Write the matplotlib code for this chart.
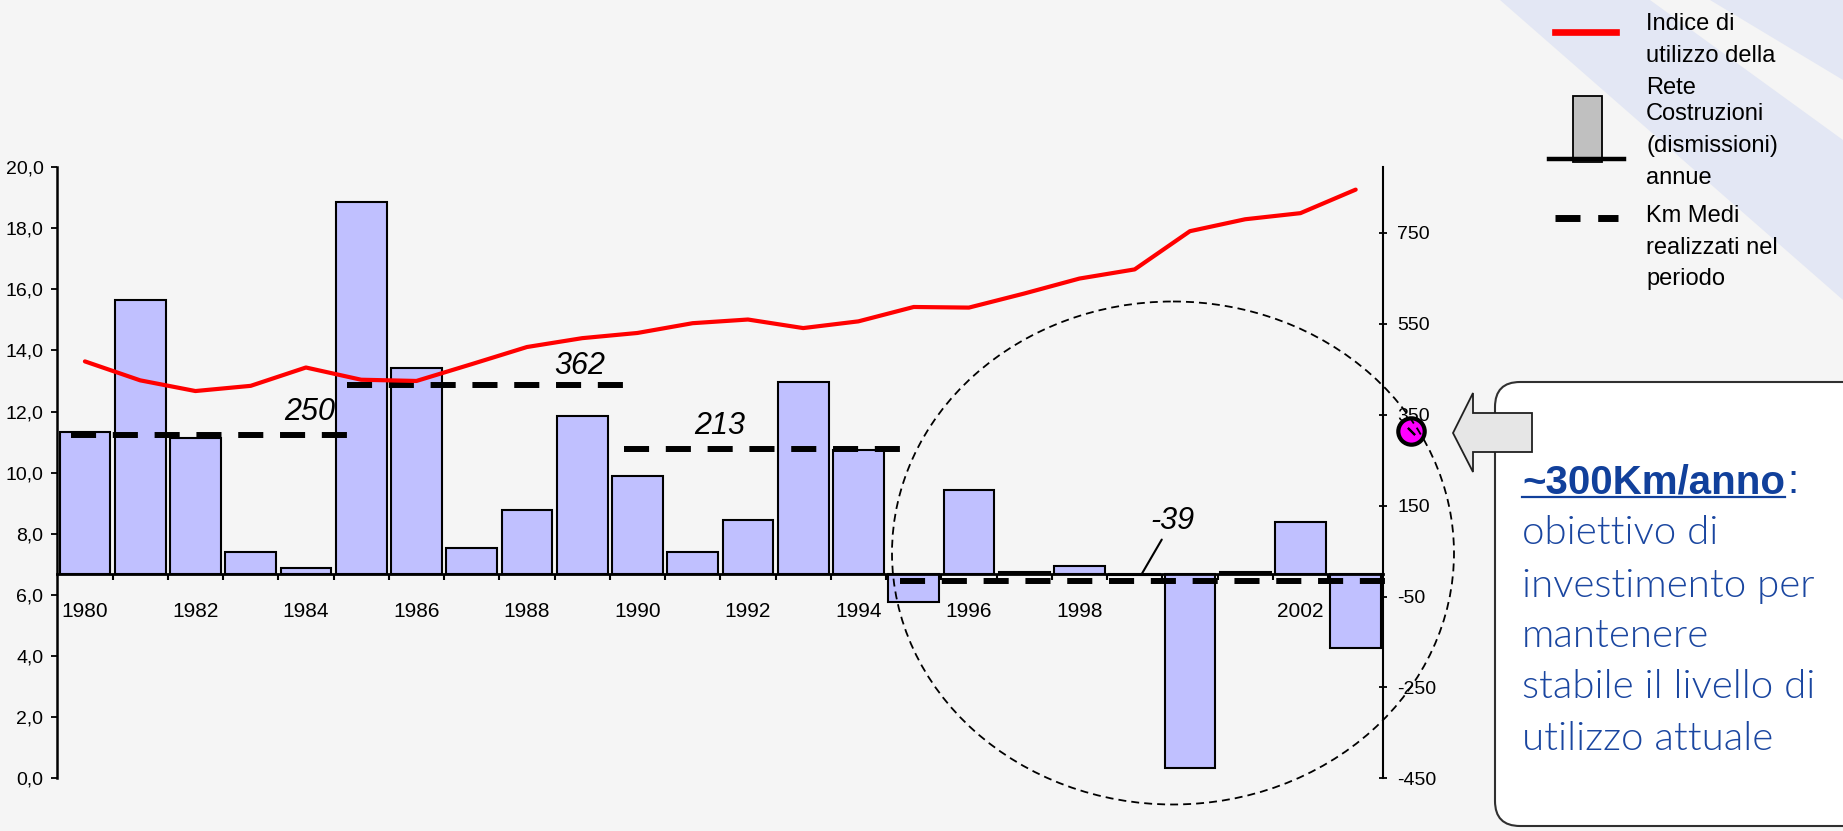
import numpy as np
import matplotlib
matplotlib.use("Agg")
import matplotlib.pyplot as plt
from matplotlib import font_manager
from matplotlib.patches import Ellipse, FancyBboxPatch, Polygon, Rectangle
from matplotlib.lines import Line2D
from matplotlib.ticker import FuncFormatter

# dati
anni = list(range(1980, 2004))
km_annui = [312, 602, 299, 47, 13, 818, 453, 57, 140, 347, 215, 47, 119, 422,
            272, -62, 184, 4, 18, -3, -427, 4, 113, -163]
indice_rete = [13.64, 13.02, 12.67, 12.84, 13.44, 13.04, 13.00, 13.55, 14.11,
               14.40, 14.57, 14.89, 15.01, 14.73, 14.95, 15.42, 15.40, 15.86,
               16.35, 16.65, 17.90, 18.29, 18.49, 19.26]
periodi = [(1980, 1984), (1985, 1989), (1990, 1994), (1995, 2003)]
medie_testo = ["250", "362", "213", "-39"]
medie_livello = [306, 416, 275, -15]
obiettivo_anno = 2004
obiettivo_km = 315

legenda_testi = [["Indice di", "utilizzo della", "Rete"],
                 ["Costruzioni", "(dismissioni)", "annue"],
                 ["Km Medi", "realizzati nel", "periodo"]]
box_titolo = "~300Km/anno"
box_righe = ["obiettivo di", "investimento per", "mantenere",
             "stabile il livello di", "utilizzo attuale"]

nomi = {f.name for f in font_manager.fontManager.ttflist}
stretto = "Liberation Sans Narrow" if "Liberation Sans Narrow" in nomi else "Liberation Sans"
sottile = "Lato" if "Lato" in nomi else "DejaVu Sans"
# peso piu' leggero "normale" disponibile (light se c'e')
pesi = sorted({f.weight for f in font_manager.fontManager.ttflist
               if f.name == sottile and f.style == "normal"
               and isinstance(f.weight, int) and f.weight >= 300})
peso_sottile = pesi[0] if pesi else "normal"
plt.rcParams["font.family"] = [stretto, "DejaVu Sans"]
plt.rcParams["axes.unicode_minus"] = False

W, H = 1843, 831
fig = plt.figure(figsize=(W / 100, H / 100), dpi=100)
fig.patch.set_facecolor("#F5F5F5")

# sfondo (strisce azzurre in alto a destra)
bg = fig.add_axes([0, 0, 1, 1])
bg.set_xlim(0, W)
bg.set_ylim(H, 0)
bg.axis("off")
bg.add_patch(Polygon([(1500, 0), (1650, 0), (1843, 140), (1843, 300)],
                     closed=True, fc="#E3E7F4", ec="none"))
bg.add_patch(Polygon([(1710, 0), (1843, 0), (1843, 80)],
                     closed=True, fc="#E3E7F4", ec="none"))

x = np.arange(len(anni))
rect = [57.3 / W, 1 - 778.3 / H, 1326 / W, 611.3 / H]
ax = fig.add_axes(rect)
axl = ax.twinx()

# barre (asse destro)
ax.patch.set_visible(False)
ax.bar(x, km_annui, width=0.92, color="#C0C0FF", edgecolor="black",
       linewidth=1.5, zorder=2)
ax.set_xlim(-0.5, len(anni) - 0.5)
ax.set_ylim(-450, 895)
ax.spines["bottom"].set_position(("data", 0))
ax.spines["bottom"].set_linewidth(2)
ax.spines["left"].set_visible(False)
ax.spines["top"].set_visible(False)
ax.spines["right"].set_linewidth(1.5)
ax.yaxis.tick_right()
ax.set_yticks(np.arange(-450, 751, 200))
ax.tick_params(axis="y", direction="inout", length=6, width=1.3, pad=7,
               labelsize=14)
ax.set_xticks(x[::2])
ax.set_xticklabels([str(a) for a in anni[::2]])
ax.set_xticks(np.arange(0.5, len(anni) - 1, 1), minor=True)
ax.tick_params(axis="x", which="major", length=0, pad=20, labelsize=15)
ax.tick_params(axis="x", which="minor", direction="out", length=4.5, width=1.5)

# medie di periodo
for (a, b), liv in zip(periodi, medie_livello):
    i0, i1 = anni.index(a), anni.index(b)
    ax.plot([i0 - 0.25, i1 + 0.75], [liv, liv], color="black", lw=4.3,
            dashes=(4.2, 2.8), zorder=4, clip_on=False)

kw_lab = dict(fontsize=22, style="italic", family="Liberation Sans",
              ha="center", va="center", zorder=5)
ax.text(4.06, 357, medie_testo[0], **kw_lab)
ax.text(8.95, 457, medie_testo[1], **kw_lab)
ax.text(11.48, 326, medie_testo[2], **kw_lab)
ax.annotate(medie_testo[3], xy=(19.13, 0), xytext=(19.69, 117),
            arrowprops=dict(arrowstyle="-", color="black", lw=1.5,
                            shrinkA=1, shrinkB=0), **kw_lab)

# obiettivo
xo = anni.index(2003) + (obiettivo_anno - 2003)
ax.plot([xo], [obiettivo_km], marker="o", ms=19, mfc="#FF00FF", mec="black",
        mew=3, clip_on=False, zorder=6)
ax.plot([xo], [obiettivo_km], marker=(2, 2, 45), ms=7, mec="black", mew=1.5,
        clip_on=False, zorder=7)

# indice di utilizzo (asse sinistro)
axl.yaxis.tick_left()
axl.yaxis.set_label_position("left")
for s in ["right", "top", "bottom"]:
    axl.spines[s].set_visible(False)
axl.spines["left"].set_linewidth(1.8)
axl.plot(x, indice_rete, color="#FF0000", lw=3, solid_joinstyle="round",
         solid_capstyle="round", zorder=3)
axl.set_ylim(0, 20)
axl.set_yticks(np.arange(0, 21, 2))
axl.yaxis.set_major_formatter(FuncFormatter(lambda v, p: f"{v:.1f}".replace(".", ",")))
axl.tick_params(axis="y", direction="out", length=4.5, width=1.3, pad=5.5,
                labelsize=14)

# sovrapposizione in pixel: cerchio, legenda, riquadro
ov = fig.add_axes([0, 0, 1, 1])
ov.set_xlim(0, W)
ov.set_ylim(H, 0)
ov.axis("off")

ov.add_patch(Ellipse((1173, 553), 562, 503, fill=False, ec="black", lw=1.3,
                     ls=(0, (4.4, 2.8))))

# legenda
ov.add_line(Line2D([1555, 1616], [32.3, 32.3], color="#FF0000", lw=4.8))
ov.add_patch(Rectangle((1573.3, 95.7), 28.4, 66.6, fc="#C0C0C0", ec="black", lw=1.3))
ov.add_line(Line2D([1549, 1624], [159.3, 159.3], color="black", lw=3.2))
ov.add_line(Line2D([1555, 1618], [218.3, 218.3], color="black", lw=5,
                   dashes=(3.6, 2.55)))
y_righe = [[21.7, 53.3, 86], [111.7, 143.3, 175], [213.3, 245, 276.7]]
for testi, ys in zip(legenda_testi, y_righe):
    for t, yy in zip(testi, ys):
        ov.text(1646, yy, t, fontsize=17, family="Liberation Sans",
                ha="left", va="center_baseline")

# riquadro con freccia
ov.add_patch(FancyBboxPatch((1495, 382), 420, 444,
                            boxstyle="round,pad=0,rounding_size=25",
                            fc="white", ec="#303030", lw=1.5))
ov.add_patch(Polygon([(1453, 433), (1473, 393), (1473, 413), (1532, 413),
                      (1532, 452), (1473, 452), (1473, 472)],
                     closed=True, fc="#E6E6E6", ec="#202020", lw=1.3))

tit = ov.text(1522, 493, box_titolo, fontsize=29, fontweight="bold",
              family="Liberation Sans", color="#11409B", va="baseline")
fig.canvas.draw()
bb = tit.get_window_extent().transformed(ov.transData.inverted())
x_fine = max(bb.x0, bb.x1)
ov.add_line(Line2D([1522, x_fine], [497, 497], color="#11409B", lw=1.6))
ov.text(x_fine + 2, 493, ":", fontsize=29, family="Liberation Sans",
        color="#11409B", va="baseline")

for riga, yb in zip(box_righe, [544, 597, 647, 698, 750]):
    ov.text(1522, yb, riga, fontsize=29, family=sottile, fontweight=peso_sottile,
            color="#1A46A0", va="baseline")

fig.savefig("out.png", dpi=100, facecolor=fig.get_facecolor())
